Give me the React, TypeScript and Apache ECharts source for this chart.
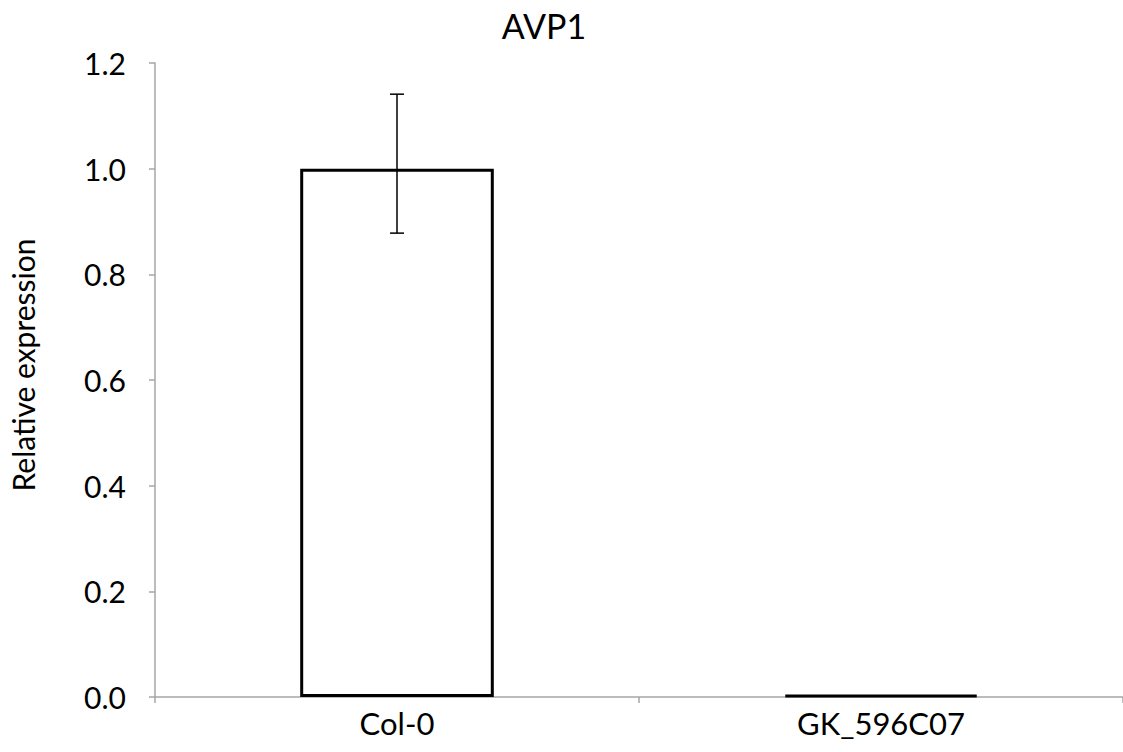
import React, { useEffect, useRef } from "react";
import * as echarts from "echarts";

const categories = ["Col-0", "GK_596C07"];
const values = [1.0, 0.004];
const errLow = [0.878, 0.004];
const errHigh = [1.141, 0.004];
const yTicks = ["0.0", "0.2", "0.4", "0.6", "0.8", "1.0", "1.2"];

export default function App() {
  const ref = useRef<HTMLDivElement>(null);
  useEffect(() => {
    const chart = echarts.init(ref.current!, null, { renderer: "svg" });
    const font = "Lato, 'Open Sans', sans-serif";
    chart.setOption({
      animation: false,
      title: {
        text: "AVP1",
        left: 539,
        top: 3,
        textAlign: "center",
        textStyle: { fontFamily: font, fontSize: 34, fontWeight: "normal", color: "#000" },
      },
      grid: { left: 151, width: 978, top: 63, bottom: 55, containLabel: false },
      xAxis: {
        type: "category",
        data: categories,
        axisLine: { lineStyle: { color: "#a6a6a6", width: 1.5 } },
        axisTick: { show: true, length: 6, lineStyle: { color: "#a6a6a6", width: 1.5 } },
        axisLabel: { fontFamily: font, fontSize: 31, color: "#000", margin: 10 },
      },
      yAxis: {
        type: "value",
        min: 0,
        max: 1.2,
        interval: 0.2,
        name: "Relative expression",
        nameLocation: "middle",
        nameGap: 117,
        nameRotate: 90,
        nameTextStyle: { fontFamily: font, fontSize: 30, color: "#000", padding: [0, 0, 0, 30] },
        axisLine: { show: true, lineStyle: { color: "#a6a6a6", width: 1.5 } },
        axisTick: { show: true, length: 6, lineStyle: { color: "#a6a6a6", width: 1.5 } },
        splitLine: { show: false },
        axisLabel: {
          fontFamily: font,
          fontSize: 30,
          color: "#000",
          margin: 29,
          formatter: (v: number) => yTicks[Math.round(v / 0.2)] ?? v.toFixed(1),
        },
      },
      series: [
        {
          type: "bar",
          data: values,
          barWidth: "40%",
          itemStyle: { color: "#fff", borderColor: "#000", borderWidth: 3 },
        },
        {
          type: "custom",
          data: categories.map((_, i) => [i, errLow[i], errHigh[i]]),
          renderItem: (params: any, api: any) => {
            const i = api.value(0);
            if (api.value(1) === api.value(2)) return null;
            const lo = api.coord([i, api.value(1)]);
            const hi = api.coord([i, api.value(2)]);
            const hw = 7;
            const style = { stroke: "#000", lineWidth: 1.5 };
            return {
              type: "group",
              children: [
                { type: "line", shape: { x1: lo[0], y1: lo[1], x2: hi[0], y2: hi[1] }, style },
                { type: "line", shape: { x1: hi[0] - hw, y1: hi[1], x2: hi[0] + hw, y2: hi[1] }, style },
                { type: "line", shape: { x1: lo[0] - hw, y1: lo[1], x2: lo[0] + hw, y2: lo[1] }, style },
              ],
            };
          },
          z: 5,
        },
      ],
    });
    return () => chart.dispose();
  }, []);
  return <div ref={ref} style={{ width: 1123, height: 752, position: "absolute", left: 0, top: 0, background: "#fff" }} />;
}
